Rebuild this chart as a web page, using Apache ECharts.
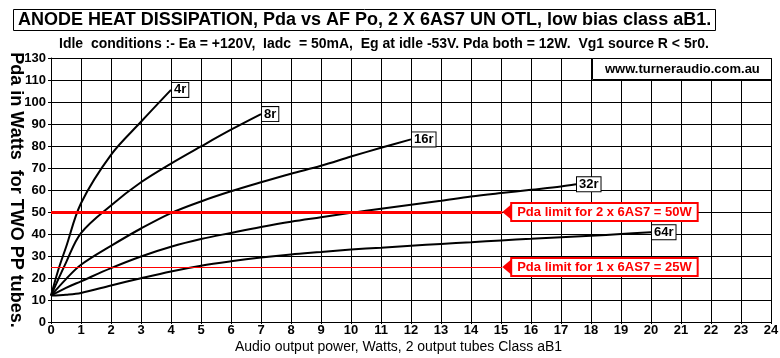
<!DOCTYPE html>
<html><head><meta charset="utf-8">
<script src="https://cdn.jsdelivr.net/npm/echarts@6/dist/echarts.min.js"></script>
<style>html,body{margin:0;padding:0;background:#fff}#c{width:780px;height:358px}</style>
</head><body><div id="c"></div>
<script>
const titleText = 'ANODE HEAT DISSIPATION, Pda vs AF Po, 2 X 6AS7 UN OTL, low bias class aB1.';
const subtitleText = 'Idle  conditions :- Ea = +120V,  Iadc  = 50mA,  Eg at idle -53V. Pda both = 12W.  Vg1 source R < 5r0.';
const siteText = 'www.turneraudio.com.au';
const xAxisName = 'Audio output power, Watts, 2 output tubes Class aB1';
const yAxisName = 'Pda in Watts  for TWO PP tubes.';
const yTickLabels = ['0','10','20','30','40','50','60','70','80','90','100','110','130'];

const seriesNames = ['4r', '8r', '16r', '32r', '64r'];
const x4r  = [0, 0.25, 0.5, 1, 2, 3, 4];
const y4r  = [12, 24, 34, 54, 76, 91, 105.5];
const x8r  = [0, 0.5, 1, 2, 3, 4, 5, 6, 7];
const y8r  = [12, 27, 40.4, 53, 63.5, 72, 79.8, 87.4, 94.5];
const x16r = [0, 0.5, 1, 2, 3, 4, 5, 6, 7, 8, 9, 10, 11, 12];
const y16r = [12, 19.5, 26, 34.6, 42.5, 49.5, 54.8, 59.4, 63.5, 67.4, 71, 75.2, 79.2, 83];
const x32r = [0, 0.5, 1, 2, 3, 4, 5, 6, 7, 8, 9, 10, 11, 12, 13, 14, 15, 16, 17, 17.5];
const y32r = [12, 15.5, 18.5, 24.5, 29.8, 34.2, 37.7, 40.5, 43.2, 45.6, 47.6, 49.6, 51.5, 53.3, 55.1, 57, 58.6, 60.1, 61.6, 62.6];
const x64r = [0, 0.5, 1, 2, 3, 4, 5, 6, 7, 8, 9, 10, 11, 12, 13, 14, 15, 16, 17, 18, 19, 20];
const y64r = [12, 12.4, 13.2, 16.6, 19.9, 23, 25.6, 27.6, 29.3, 30.7, 31.8, 32.9, 33.8, 34.7, 35.5, 36.3, 37.1, 37.8, 38.5, 39.2, 40, 40.8];
const xData = [x4r, x8r, x16r, x32r, x64r];
const yData = [y4r, y8r, y16r, y32r, y64r];

const limitValues = [50, 25];
const limitLabels = ['Pda limit for 2 x 6AS7 = 50W', 'Pda limit for 1 x 6AS7 = 25W'];
const limitEndX = 15.04;

const FONT = "'Liberation Sans', Arial, sans-serif";
const NARROW = "'Liberation Sans Narrow', 'Arial Narrow', 'Liberation Sans', sans-serif";

const chart = echarts.init(document.getElementById('c'), null, {renderer: 'canvas'});

const curveSeries = seriesNames.map((name, i) => ({
  name: name,
  type: 'line',
  data: xData[i].map((x, j) => [x, yData[i][j]]),
  smooth: 0.35,
  symbol: 'none',
  z: 4,
  lineStyle: {color: '#000', width: 2},
  emphasis: {disabled: true},
  endLabel: {
    show: true, formatter: '{a}', distance: 1,
    color: '#000', fontFamily: FONT, fontSize: 13, fontWeight: 'bold',
    backgroundColor: '#fff', borderColor: '#000', borderWidth: 1, padding: [1, 2, 0, 2]
  }
}));

const limitSeries = {
  type: 'line', data: [], z: 3, silent: true,
  markLine: {
    silent: true, animation: false, symbol: ['none', 'none'],
    lineStyle: {color: '#ff0000', type: 'solid', width: 1},
    data: limitValues.map((v, i) => [
      {coord: [0, v], lineStyle: {color: '#ff0000', type: 'solid', width: i === 0 ? 3 : 1}},
      {coord: [limitEndX, v]}
    ]),
    label: {
      show: true, position: 'end', distance: 10,
      formatter: p => limitLabels[p.dataIndex],
      color: '#ff0000', fontFamily: FONT, fontSize: 13, fontWeight: 'bold',
      backgroundColor: '#fff', borderColor: '#ff0000', borderWidth: 2, padding: [2, 5, 1, 5]
    }
  },
  markPoint: {
    silent: true, animation: false, symbol: 'triangle', symbolRotate: 90, symbolSize: [17, 10],
    itemStyle: {color: '#ff0000'}, label: {show: false},
    data: limitValues.map(v => ({coord: [limitEndX + 0.17, v]}))
  }
};

chart.setOption({
  animation: false,
  backgroundColor: '#fff',
  title: [
    {text: titleText, left: 13, top: 9, padding: [2, 5, 2, 5], borderColor: '#000', borderWidth: 1,
     textStyle: {fontFamily: FONT, fontSize: 18, fontWeight: 'bold', color: '#000'}},
    {text: subtitleText, left: 59, top: 37, padding: 0,
     textStyle: {fontFamily: FONT, fontSize: 14, fontWeight: 'bold', color: '#000'}},
    {text: siteText, left: 592, top: 58, padding: [5, 12, 4, 13], backgroundColor: '#fff', borderColor: '#000', borderWidth: 1,
     textStyle: {fontFamily: FONT, fontSize: 13, fontWeight: 'bold', color: '#000'}}
  ],
  grid: {left: 51, right: 9, top: 58, bottom: 36, containLabel: false, outerBoundsMode: 'none'},
  xAxis: {
    type: 'value', min: 0, max: 24, interval: 1,
    name: xAxisName, nameLocation: 'middle', nameGap: 18, nameMoveOverlap: false,
    nameTextStyle: {fontFamily: FONT, fontSize: 14, color: '#000', padding: [0, 25, 0, 0]},
    axisLine: {show: true, onZero: false, lineStyle: {color: '#000', width: 1}},
    axisTick: {show: true, length: 2, lineStyle: {color: '#000'}},
    axisLabel: {margin: 2, color: '#000', fontFamily: NARROW, fontSize: 13, fontWeight: 'bold'},
    splitLine: {show: true, lineStyle: {color: '#000', width: 1}}
  },
  yAxis: {
    type: 'value', min: 0, max: 120, interval: 10,
    name: yAxisName, nameLocation: 'middle', nameRotate: -90, nameGap: 26, nameMoveOverlap: false,
    nameTextStyle: {fontFamily: FONT, fontSize: 18, fontWeight: 'bold', color: '#000'},
    axisLine: {show: true, onZero: false, lineStyle: {color: '#000', width: 1}},
    axisTick: {show: true, length: 3, lineStyle: {color: '#000'}},
    axisLabel: {margin: 5, color: '#000', fontFamily: NARROW, fontSize: 13, fontWeight: 'bold',
                formatter: v => yTickLabels[Math.round(v / 10)]},
    splitLine: {show: true, lineStyle: {color: '#000', width: 1}}
  },
  series: [limitSeries].concat(curveSeries)
});
</script>
</body></html>
